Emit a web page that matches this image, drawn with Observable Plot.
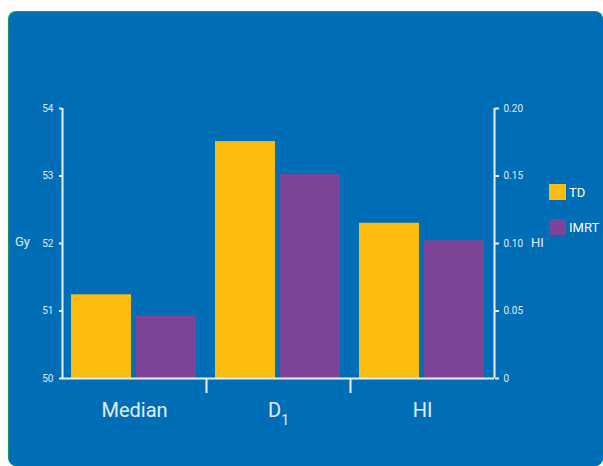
<!DOCTYPE html>
<html>
<head>
<meta charset="utf-8">
<script src="https://cdn.jsdelivr.net/npm/d3@7"></script>
<script src="https://cdn.jsdelivr.net/npm/@observablehq/plot@0.6"></script>
<style>
  html, body { margin: 0; padding: 0; background: #ffffff; width: 603px; height: 466px; overflow: hidden; }
  #card { position: absolute; left: 8px; top: 11px; width: 595px; height: 455px; background: #14966c; border-radius: 8px; }
  #cardInner { position: absolute; left: 1px; top: 1px; right: 0; bottom: 0; background: #006db7; border-radius: 8px; }
  #charts { position: absolute; left: 0; top: 0; width: 603px; height: 466px; }
  #charts svg { position: absolute; left: 0; top: 0; }
  .axlabel { position: absolute; font-family: Roboto, sans-serif; font-size: 13px; color: #e6eef7; line-height: 16px; }
  #legend { position: absolute; left: 549px; top: 184px; font-family: Roboto, sans-serif; font-size: 13px; color: #ffffff; }
  .lrow { display: flex; align-items: center; height: 16px; margin-bottom: 19px; }
  .lsw { width: 17px; height: 16px; margin-right: 3px; }
</style>
</head>
<body>
<div id="card"><div id="cardInner"></div></div>
<div id="charts"></div>
<div class="axlabel" style="left:15px; top:234px;">Gy</div>
<div class="axlabel" style="left:531px; top:235px;">HI</div>
<div id="legend"></div>
<script>
// ---- data ----
const groups = ["Median", "D1", "HI"];
const series = ["TD", "IMRT"];
const colors = ["#fdbd10", "#7e4597"];
const gyGroups = ["Median", "D1"];
const tdGy = [51.24, 53.51];
const imrtGy = [50.93, 53.02];
const hiGroup = "HI";
const tdHI = 0.115;
const imrtHI = 0.102;
const gyTicks = [50, 51, 52, 53, 54];
const hiTicks = [0, 0.05, 0.10, 0.15, 0.20];
const hiTickLabels = ["0", "0.05", "0.10", "0.15", "0.20"];

const gyData = gyGroups.flatMap((g, i) => [
  {group: g, series: series[0], value: tdGy[i]},
  {group: g, series: series[1], value: imrtGy[i]}
]);
const hiData = [
  {group: hiGroup, series: series[0], value: tdHI},
  {group: hiGroup, series: series[1], value: imrtHI}
];

const lineColor = "#eaf0f7";
const common = {
  width: 603, height: 466,
  marginTop: 108, marginBottom: 88, marginLeft: 62, marginRight: 109,
  style: {background: "transparent", color: "#e2ebf5", fontFamily: "Roboto, sans-serif", overflow: "visible"}
};
const fxOpts = {domain: groups, padding: 0, axis: null};
const xOpts = {domain: series, paddingInner: 0.076, paddingOuter: 0.137, axis: null};
const colorOpts = {domain: series, range: colors};

// Gy bars (left axis)
const plotA = Plot.plot({
  ...common,
  fx: fxOpts, x: xOpts, color: colorOpts,
  y: {domain: [50, 54], clamp: true, axis: null},
  marks: [
    Plot.barY(gyData, {fx: "group", x: "series", y: "value", fill: "series"}),
    Plot.axisY(gyTicks, {anchor: "left", tickSize: 3, tickPadding: 6, fontSize: 10, label: null, stroke: lineColor, strokeWidth: 2,
      tickFormat: d3.format("d")}),
    Plot.axisFx({anchor: "bottom", tickSize: 0, tickPadding: 24, fontSize: 20, label: null, fill: "#e4edf6"})
  ]
});

// HI bars (right axis)
const plotB = Plot.plot({
  ...common,
  fx: fxOpts, x: xOpts, color: colorOpts,
  y: {domain: [0, 0.2], axis: null},
  marks: [
    Plot.barY(hiData, {fx: "group", x: "series", y: "value", fill: "series"}),
    Plot.axisY(hiTicks, {anchor: "right", tickSize: 4, tickPadding: 5, fontSize: 10, label: null, stroke: lineColor, strokeWidth: 2,
      tickFormat: d => hiTickLabels[hiTicks.indexOf(d)]})
  ]
});

// axis lines and group separators
const plotC = Plot.plot({
  ...common,
  x: {domain: [0, groups.length], axis: null},
  y: {domain: [50, 54], axis: null},
  marks: [
    Plot.ruleY([50], {stroke: lineColor, strokeWidth: 2}),
    Plot.ruleX([0, groups.length], {stroke: lineColor, strokeWidth: 2}),
    Plot.axisX(d3.range(1, groups.length), {anchor: "bottom", tickSize: 15, tickFormat: () => "", label: null, stroke: lineColor, strokeWidth: 2})
  ]
});

const charts = document.getElementById("charts");
charts.append(plotA, plotB, plotC);

// subscript for D1
d3.select(plotA).selectAll("text").filter(function() { return this.textContent === "D1"; })
  .each(function() {
    const t = d3.select(this);
    t.text(null);
    t.append("tspan").text("D");
    t.append("tspan").attr("font-size", 14).attr("dy", 8).text("1");
  });

// legend
const legend = d3.select("#legend");
series.forEach((s, i) => {
  const row = legend.append("div").attr("class", "lrow");
  row.append("div").attr("class", "lsw").style("background", colors[i]);
  row.append("span").text(s);
});
</script>
</body>
</html>
